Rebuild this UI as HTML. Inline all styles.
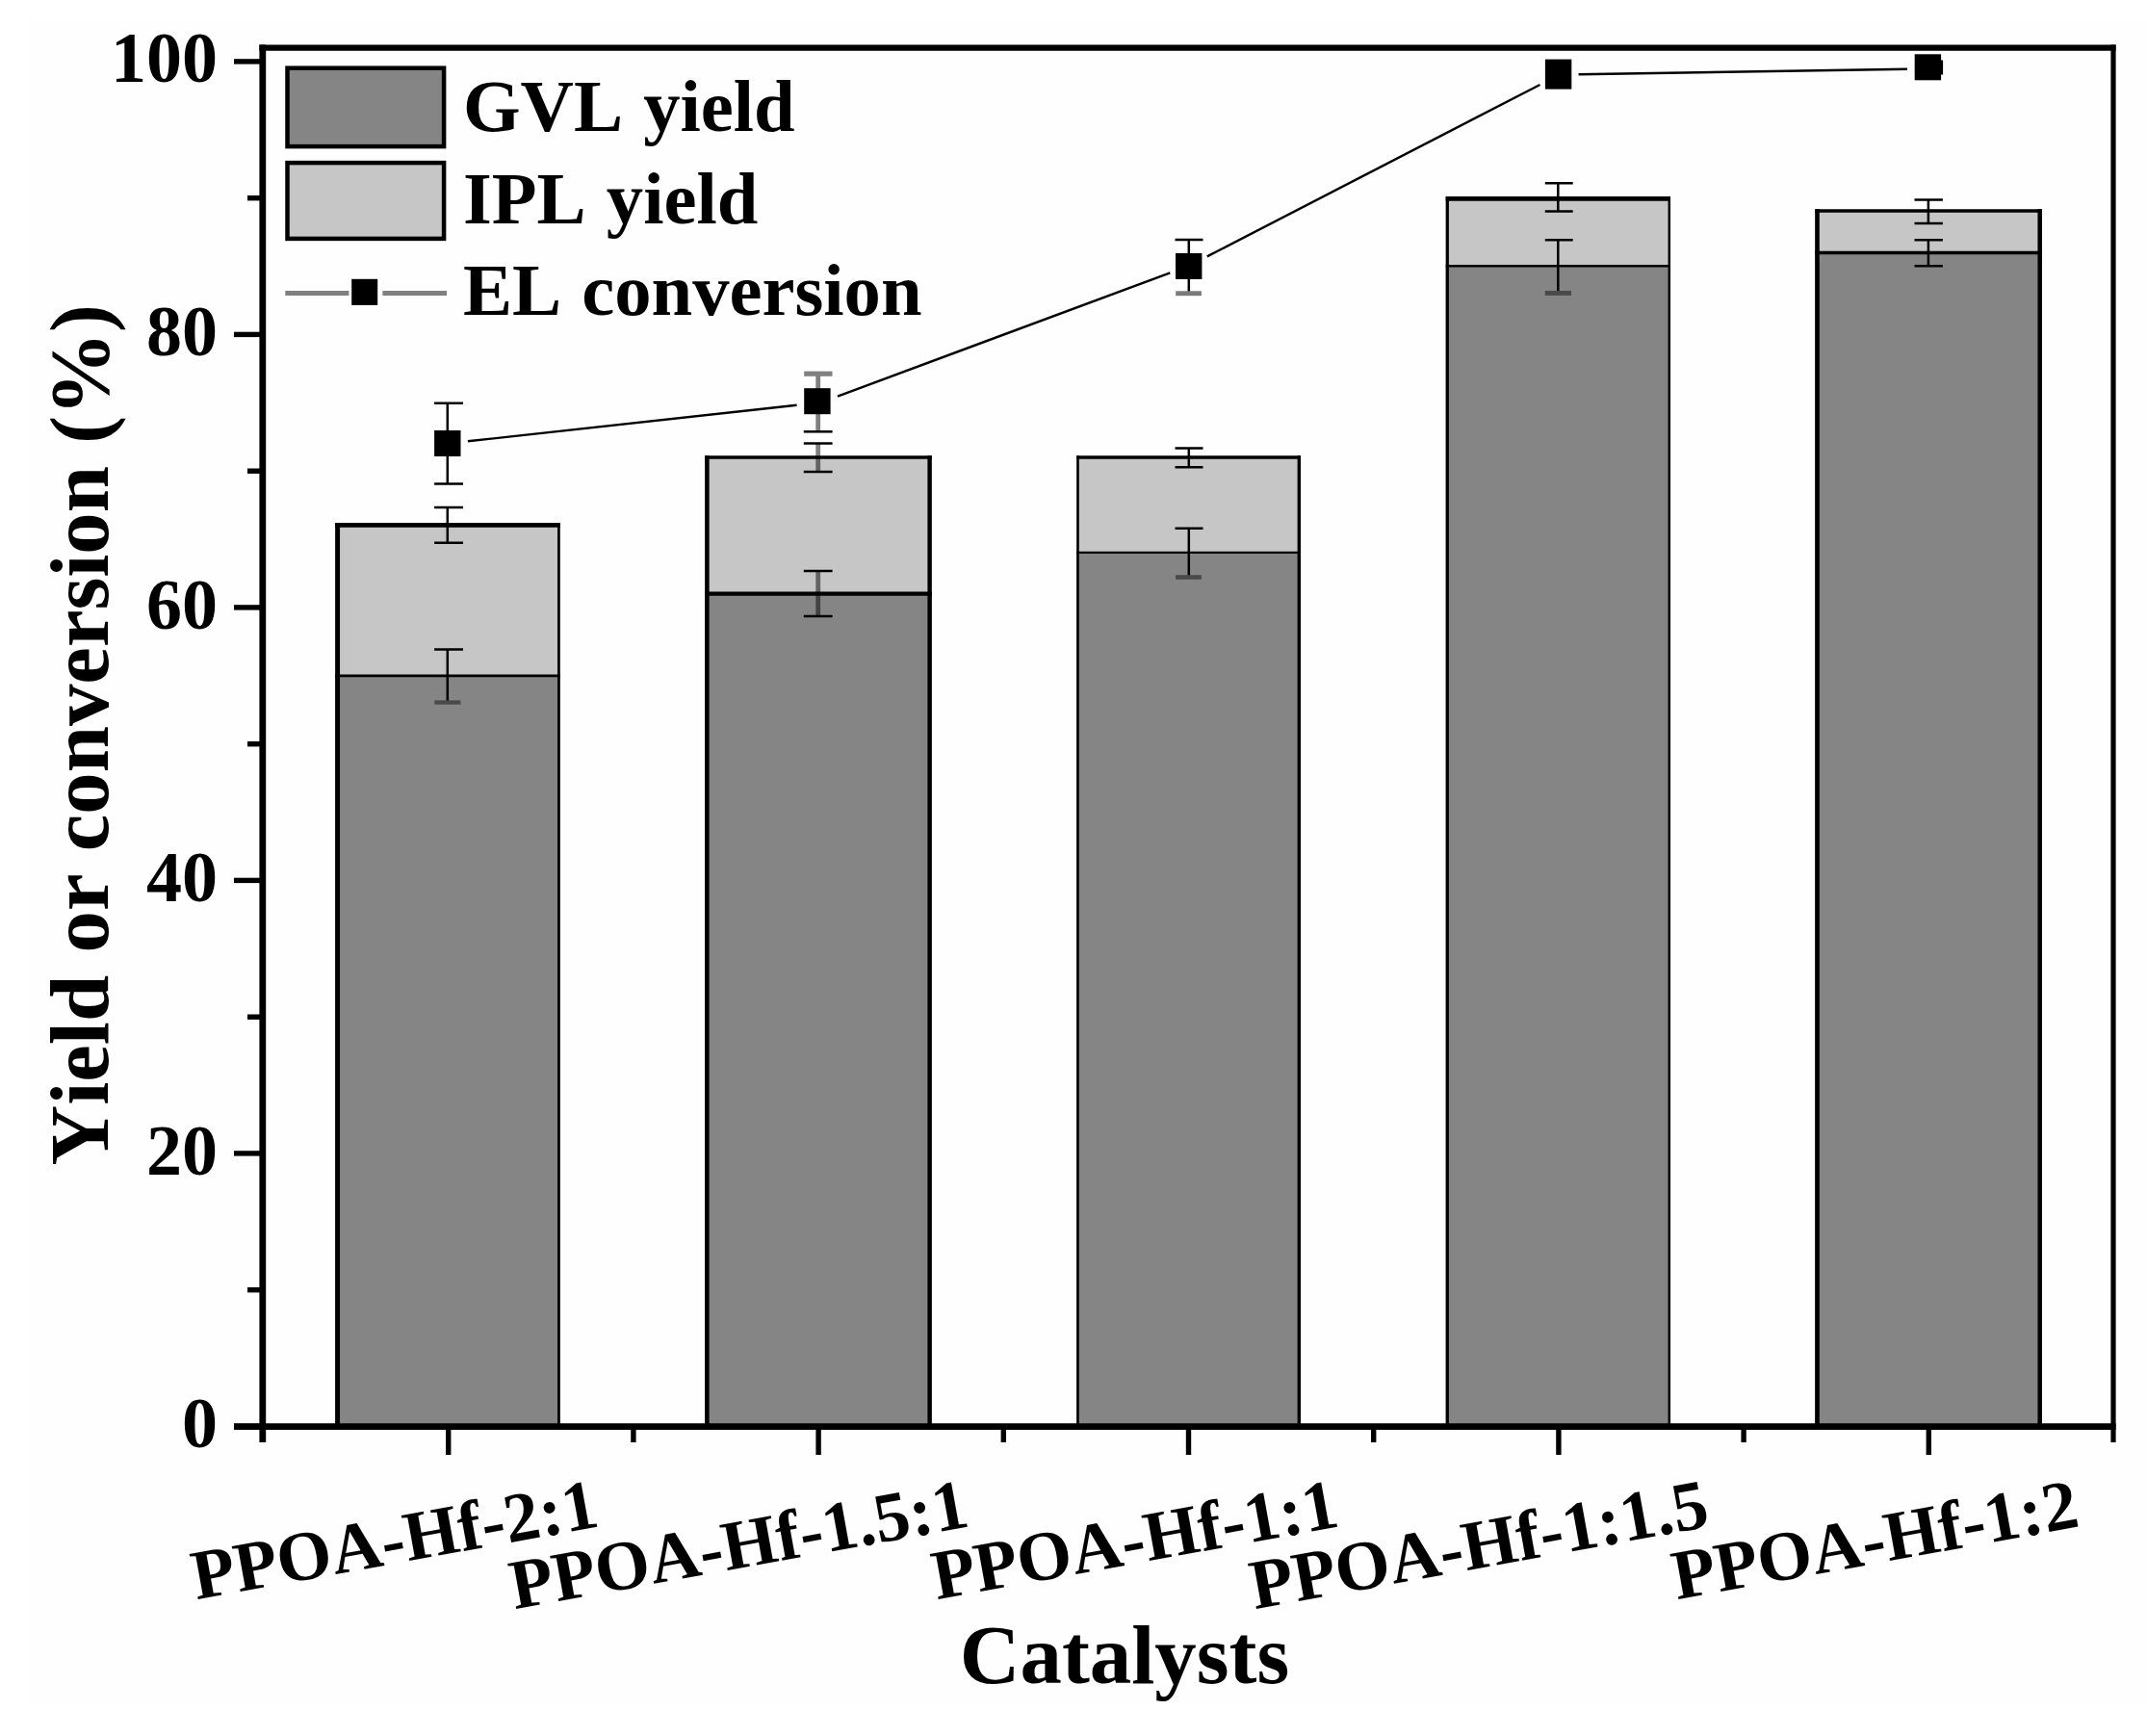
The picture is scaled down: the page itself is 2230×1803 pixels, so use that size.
<!DOCTYPE html>
<html lang="en"><head><meta charset="utf-8"><title>Yield or conversion vs Catalysts</title>
<style>html,body{margin:0;padding:0;background:#fff}body{width:2230px;height:1803px;overflow:hidden}svg{display:block}text{font-family:"Liberation Serif","Times New Roman",serif;font-weight:bold;fill:#000;font-kerning:none;font-variant-ligatures:none}</style></head><body>
<svg width="2230" height="1803" viewBox="0 0 2230 1803">
<rect x="0" y="0" width="2230" height="1803" fill="#ffffff"/>
<rect x="28" y="18" width="2202" height="1753" fill="#fefefe"/>
<g>
<rect x="348.1" y="545.4" width="233.7" height="156.5" fill="#c6c6c6"/>
<rect x="348.1" y="701.9" width="233.7" height="779.6" fill="#858585"/>
<line x1="348.1" y1="701.9" x2="581.8" y2="701.9" stroke="#000" stroke-width="2.8"/>
<line x1="348.1" y1="545.4" x2="581.8" y2="545.4" stroke="#000" stroke-width="4.7"/>
<line x1="350.6" y1="543.0" x2="350.6" y2="1481.5" stroke="#000" stroke-width="4.9"/>
<line x1="580.4" y1="543.0" x2="580.4" y2="1481.5" stroke="#000" stroke-width="2.7"/>
</g>
<g>
<rect x="732.1" y="475.0" width="235.7" height="141.6" fill="#c6c6c6"/>
<rect x="732.1" y="616.6" width="235.7" height="864.9" fill="#858585"/>
<line x1="732.1" y1="616.6" x2="967.8" y2="616.6" stroke="#000" stroke-width="4.4"/>
<line x1="732.1" y1="475.0" x2="967.8" y2="475.0" stroke="#000" stroke-width="3.5"/>
<line x1="734.4" y1="473.2" x2="734.4" y2="1481.5" stroke="#000" stroke-width="4.5"/>
<line x1="965.6" y1="473.2" x2="965.6" y2="1481.5" stroke="#000" stroke-width="4.4"/>
</g>
<g>
<rect x="1118.2" y="475.0" width="232.8" height="98.8" fill="#c6c6c6"/>
<rect x="1118.2" y="573.8" width="232.8" height="907.7" fill="#858585"/>
<line x1="1118.2" y1="573.8" x2="1351.0" y2="573.8" stroke="#000" stroke-width="2.2"/>
<line x1="1118.2" y1="475.0" x2="1351.0" y2="475.0" stroke="#000" stroke-width="3.4"/>
<line x1="1119.5" y1="473.3" x2="1119.5" y2="1481.5" stroke="#000" stroke-width="2.6"/>
<line x1="1349.3" y1="473.3" x2="1349.3" y2="1481.5" stroke="#000" stroke-width="3.4"/>
</g>
<g>
<rect x="1501.7" y="206.4" width="233.3" height="69.9" fill="#c6c6c6"/>
<rect x="1501.7" y="276.3" width="233.3" height="1205.2" fill="#858585"/>
<line x1="1501.7" y1="276.3" x2="1735.0" y2="276.3" stroke="#000" stroke-width="2.5"/>
<line x1="1501.7" y1="206.4" x2="1735.0" y2="206.4" stroke="#000" stroke-width="4.8"/>
<line x1="1503.3" y1="204.0" x2="1503.3" y2="1481.5" stroke="#000" stroke-width="3.2"/>
<line x1="1733.8" y1="204.0" x2="1733.8" y2="1481.5" stroke="#000" stroke-width="2.5"/>
</g>
<g>
<rect x="1885.2" y="219.0" width="235.7" height="43.5" fill="#c6c6c6"/>
<rect x="1885.2" y="262.5" width="235.7" height="1219.0" fill="#858585"/>
<line x1="1885.2" y1="262.5" x2="2120.9" y2="262.5" stroke="#000" stroke-width="3.4"/>
<line x1="1885.2" y1="219.0" x2="2120.9" y2="219.0" stroke="#000" stroke-width="3.6"/>
<line x1="1887.5" y1="217.2" x2="1887.5" y2="1481.5" stroke="#000" stroke-width="4.6"/>
<line x1="2118.7" y1="217.2" x2="2118.7" y2="1481.5" stroke="#000" stroke-width="4.5"/>
</g>
<line x1="272.8" y1="46.4" x2="272.8" y2="1498.0" stroke="#000" stroke-width="6.8"/>
<line x1="2195.0" y1="46.4" x2="2195.0" y2="1498.0" stroke="#000" stroke-width="5.2"/>
<line x1="269.4" y1="49.6" x2="2197.6" y2="49.6" stroke="#000" stroke-width="6.4"/>
<line x1="243.0" y1="1481.6" x2="2197.6" y2="1481.6" stroke="#000" stroke-width="6.8"/>
<line x1="243" y1="1481.4" x2="271" y2="1481.4" stroke="#000" stroke-width="5.4"/>
<line x1="257" y1="1339.7" x2="271" y2="1339.7" stroke="#000" stroke-width="5.4"/>
<line x1="243" y1="1197.9" x2="271" y2="1197.9" stroke="#000" stroke-width="5.4"/>
<line x1="257" y1="1056.2" x2="271" y2="1056.2" stroke="#000" stroke-width="5.4"/>
<line x1="243" y1="914.4" x2="271" y2="914.4" stroke="#000" stroke-width="5.4"/>
<line x1="257" y1="772.7" x2="271" y2="772.7" stroke="#000" stroke-width="5.4"/>
<line x1="243" y1="630.9" x2="271" y2="630.9" stroke="#000" stroke-width="5.4"/>
<line x1="257" y1="489.2" x2="271" y2="489.2" stroke="#000" stroke-width="5.4"/>
<line x1="243" y1="347.4" x2="271" y2="347.4" stroke="#000" stroke-width="5.4"/>
<line x1="257" y1="205.7" x2="271" y2="205.7" stroke="#000" stroke-width="5.4"/>
<line x1="243" y1="63.9" x2="271" y2="63.9" stroke="#000" stroke-width="5.4"/>
<line x1="465.7" y1="1483" x2="465.7" y2="1511" stroke="#000" stroke-width="5.4"/>
<line x1="850.1" y1="1483" x2="850.1" y2="1511" stroke="#000" stroke-width="5.4"/>
<line x1="1234.5" y1="1483" x2="1234.5" y2="1511" stroke="#000" stroke-width="5.4"/>
<line x1="1618.9" y1="1483" x2="1618.9" y2="1511" stroke="#000" stroke-width="5.4"/>
<line x1="2003.3" y1="1483" x2="2003.3" y2="1511" stroke="#000" stroke-width="5.4"/>
<line x1="657.9" y1="1483" x2="657.9" y2="1498" stroke="#000" stroke-width="5.4"/>
<line x1="1042.3" y1="1483" x2="1042.3" y2="1498" stroke="#000" stroke-width="5.4"/>
<line x1="1426.7" y1="1483" x2="1426.7" y2="1498" stroke="#000" stroke-width="5.4"/>
<line x1="1811.1" y1="1483" x2="1811.1" y2="1498" stroke="#000" stroke-width="5.4"/>
<path d="M451.1 418.7H481.0M451.1 502.4H481.0M464.8 418.7V502.4" stroke="#000" stroke-width="2.5" fill="none"/>
<path d="M451.1 527.0H481.0M451.1 563.8H481.0M464.8 527.0V563.8" stroke="#000" stroke-width="2.5" fill="none"/>
<path d="M451.1 674.4H481.0M464.8 674.4V728.4" stroke="#000" stroke-width="2.5" fill="none"/>
<rect x="451.3" y="727.4" width="27.1" height="4.3" fill="#4a4a4a"/>
<line x1="849.7" y1="388.2" x2="849.7" y2="448.3" stroke="#000" stroke-opacity="0.5" stroke-width="4.8"/>
<rect x="835.2" y="385.6" width="29.3" height="5.2" fill="#808080"/>
<path d="M834.8 448.3H864.6" stroke="#000" stroke-width="2.5" fill="none"/>
<line x1="849.7" y1="460.4" x2="849.7" y2="490.0" stroke="#000" stroke-opacity="0.5" stroke-width="4.8"/>
<path d="M834.8 460.4H864.6M834.8 490.0H864.6" stroke="#000" stroke-width="2.5" fill="none"/>
<line x1="849.7" y1="593.0" x2="849.7" y2="640.0" stroke="#000" stroke-opacity="0.5" stroke-width="4.8"/>
<path d="M834.8 593.0H864.6M834.8 640.0H864.6" stroke="#000" stroke-width="2.5" fill="none"/>
<path d="M1220.5 249.1H1249.5M1234.8 249.1V303.3" stroke="#000" stroke-width="2.5" fill="none"/>
<rect x="1221.2" y="302.3" width="26.7" height="4.9" fill="#7a7a7a"/>
<path d="M1220.5 465.6H1249.5M1220.5 485.2H1249.5M1234.8 465.6V485.2" stroke="#000" stroke-width="2.5" fill="none"/>
<path d="M1220.5 548.8H1249.5M1234.8 548.8V598.2" stroke="#000" stroke-width="2.5" fill="none"/>
<rect x="1221.0" y="597.2" width="26.9" height="4.6" fill="#4a4a4a"/>
<path d="M1604.8 190.3H1633.7M1604.8 219.6H1633.7M1618.3 190.3V219.6" stroke="#000" stroke-width="2.5" fill="none"/>
<path d="M1604.8 249.2H1633.7M1618.3 249.2V303.0" stroke="#000" stroke-width="2.5" fill="none"/>
<rect x="1604.8" y="302.0" width="27.2" height="4.9" fill="#4a4a4a"/>
<path d="M1988.5 207.4H2017.9M1988.5 231.9H2017.9M2002.9 207.4V231.9" stroke="#000" stroke-width="2.5" fill="none"/>
<path d="M1988.5 249.2H2017.9M1988.5 276.2H2017.9M2002.9 249.2V276.2" stroke="#000" stroke-width="2.5" fill="none"/>
<line x1="485.9" y1="458.3" x2="827.6" y2="420.8" stroke="#000" stroke-width="2.4"/>
<line x1="870.0" y1="411.6" x2="1215.3" y2="283.4" stroke="#000" stroke-width="2.4"/>
<line x1="1253.8" y1="266.4" x2="1599.5" y2="88.0" stroke="#000" stroke-width="2.4"/>
<line x1="1639.6" y1="77.3" x2="1981.0" y2="71.7" stroke="#000" stroke-width="2.4"/>
<rect x="451.1" y="447.0" width="27.4" height="27.0" fill="#000"/>
<rect x="835.2" y="403.2" width="27.4" height="27.0" fill="#000"/>
<rect x="1221.0" y="263.0" width="27.4" height="27.0" fill="#000"/>
<rect x="1604.9" y="61.6" width="27.4" height="31.0" fill="#000"/>
<rect x="1988.7" y="56.3" width="27.4" height="27.0" fill="#000"/>
<rect x="2015.5" y="62.5" width="2.6" height="15" fill="#000"/>
<rect x="298.5" y="70.7" width="162.6" height="81.4" fill="#858585" stroke="#000" stroke-width="4.5"/>
<rect x="298.5" y="169.1" width="162.6" height="78.8" fill="#c6c6c6" stroke="#000" stroke-width="4.5"/>
<path d="M296.3 304.5H362.4M397.4 304.5H464" stroke="#808080" stroke-width="5" fill="none"/>
<rect x="365.2" y="289.8" width="27" height="27.1" fill="#000"/>
<text x="481" y="136" font-size="76.6" word-spacing="2">GVL yield</text>
<text x="481" y="232" font-size="76.6" word-spacing="2">IPL yield</text>
<text x="481" y="327" font-size="76.6" word-spacing="2">EL conversion</text>
<text x="226" y="1503.4" font-size="74" text-anchor="end">0</text>
<text x="226" y="1219.9" font-size="74" text-anchor="end">20</text>
<text x="226" y="936.4" font-size="74" text-anchor="end">40</text>
<text x="226" y="652.9" font-size="74" text-anchor="end">60</text>
<text x="226" y="369.4" font-size="74" text-anchor="end">80</text>
<text x="226" y="84.7" font-size="74" text-anchor="end">100</text>
<text transform="translate(624.0 1585) rotate(-10.3)" font-size="73.2" text-anchor="end">PPOA-Hf-2:1</text>
<text transform="translate(1008.4 1585) rotate(-10.3)" font-size="73.2" text-anchor="end">PPOA-Hf-1.5:1</text>
<text transform="translate(1392.8 1585) rotate(-10.3)" font-size="73.2" text-anchor="end">PPOA-Hf-1:1</text>
<text transform="translate(1777.2 1585) rotate(-10.3)" font-size="73.2" text-anchor="end">PPOA-Hf-1:1.5</text>
<text transform="translate(2161.6 1585) rotate(-10.3)" font-size="73.2" text-anchor="end">PPOA-Hf-1:2</text>
<text x="1168" y="1748.3" font-size="86.8" text-anchor="middle">Catalysts</text>
<text transform="translate(111.5 763.3) rotate(-90)" font-size="86.8" word-spacing="1.6" text-anchor="middle">Yield or conversion (%)</text>
</svg></body></html>
